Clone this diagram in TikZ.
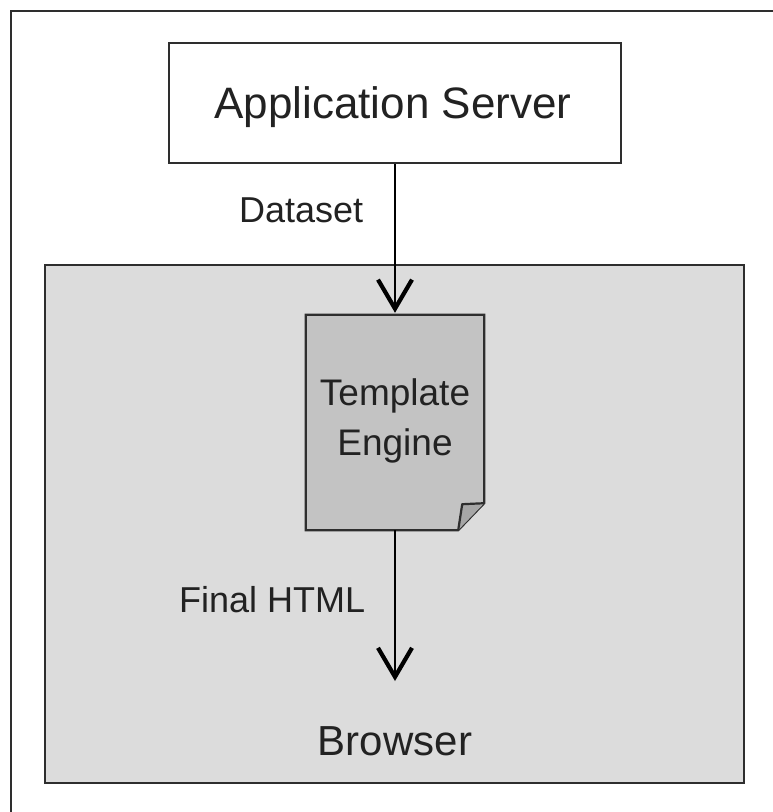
\documentclass[tikz,border=0pt]{standalone}
\usepackage{fontspec}
\setmainfont{Liberation Sans}
\usetikzlibrary{arrows.meta,calc}
\definecolor{frameline}{HTML}{2E2E2E}
\definecolor{panelgray}{HTML}{DCDCDC}
\definecolor{docgray}{HTML}{C3C3C3}
\definecolor{foldgray}{HTML}{A6A6A6}
\definecolor{txt}{HTML}{222222}
\tikzset{
  box/.style={draw=frameline, line width=2.2pt, inner sep=0pt},
  lbl/.style={text=txt, inner sep=0pt, anchor=base},
  flow/.style={draw=black, line width=1.8pt, -{Straight Barb[length=29pt,width=34pt,line width=4.2pt]}, shorten >=2pt},
}
\begin{document}
\begin{tikzpicture}[x=1pt,y=-1pt]
\useasboundingbox (0,0) rectangle (773,812);
\fill[white] (0,0) rectangle (773,812);
% outer frame (cropped)
\draw[frameline, line width=2.5pt] (11,812) -- (11,11) -- (773,11);
% browser panel
\node[box, fill=panelgray, minimum width=699pt, minimum height=518pt] (panel) at (394.5,524) {};
% application server
\node[box, fill=white, minimum width=452pt, minimum height=120pt] (app) at (395,103) {};
\node[lbl, font=\fontsize{44}{50}\selectfont] (apptxt) at (393,118) {Application Server};
% template engine document
\node[inner sep=0pt, minimum width=178pt, minimum height=215pt] (doc) at (395,422.5) {};
\draw[frameline, line width=2.2pt, fill=docgray, line join=miter]
  (doc.north west) -- (doc.north east) -- ($(doc.south east)+(0,-27)$)
  -- ($(doc.south east)+(-26,0)$) -- (doc.south west) -- cycle;
\draw[frameline, line width=2.2pt, fill=foldgray, line join=round]
  ($(doc.south east)+(0,-27)$) -- ($(doc.south east)+(-22,-26)$) -- ($(doc.south east)+(-26,0)$);
\node[lbl, font=\fontsize{37}{50}\selectfont] (tpl1) at (395,405) {Template};
\node[lbl, font=\fontsize{37}{50}\selectfont] (tpl2) at (395,455) {Engine};
% labels
\node[lbl, anchor=base west, font=\fontsize{36}{44}\selectfont] (dataset) at (239,222) {Dataset};
\node[lbl, anchor=base west, font=\fontsize{36}{44}\selectfont] (final) at (179,612) {Final HTML};
\node[lbl, font=\fontsize{42}{50}\selectfont] (browser) at (395,755) {Browser};
% connectors
\coordinate (htmlend) at (395,683);
\draw[flow] (app.south) -- (doc.north);
\draw[flow] (doc.south) -- (htmlend);
\end{tikzpicture}
\end{document}
